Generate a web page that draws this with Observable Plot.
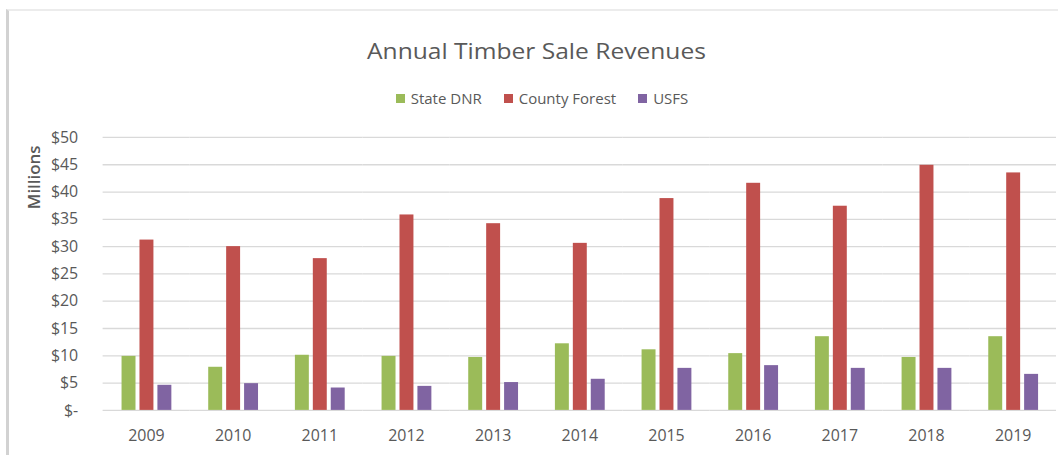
<!DOCTYPE html>
<html>
<head>
<meta charset="utf-8">
<script src="https://cdn.jsdelivr.net/npm/d3@7"></script>
<script src="https://cdn.jsdelivr.net/npm/@observablehq/plot@0.6"></script>
<style>
  html, body { margin: 0; padding: 0; background: #fff; }
  #wrap { position: relative; width: 1058px; height: 455px; overflow: hidden; font-family: "Open Sans", sans-serif; color: #595959; }
  #frame { position: absolute; left: 6px; top: 9px; right: -10px; bottom: -10px; border-left: 3px solid #d2d2d2; border-top: 2px solid #ececec; }
  #title { position: absolute; left: 9px; top: 41px; width: 1058px; text-align: center; font-size: 21px; line-height: 1; color: #595959; transform: scaleX(1.17); transform-origin: 538px 0; }
  #legend { position: absolute; left: 13px; top: 88px; width: 1058px; display: flex; justify-content: center; }
  #legend .lg-swatches { font-family: "Open Sans", sans-serif; font-size: 15px; color: #595959; min-height: 0 !important; margin: 0 !important; }
  #legend .lg-swatch { margin-right: 22px !important; }
  #legend .lg-swatch:last-child { margin-right: 0 !important; }
  #legend .lg-swatch > svg { margin-right: 6px !important; }
  #chart { position: absolute; left: 0; top: 120px; }
</style>
</head>
<body>
<div id="wrap">
  <div id="frame"></div>
  <div id="title"></div>
  <div id="legend"></div>
  <div id="chart"></div>
</div>
<script>
const title = "Annual Timber Sale Revenues";
const yLabel = "Millions";
const years = ["2009", "2010", "2011", "2012", "2013", "2014", "2015", "2016", "2017", "2018", "2019"];
const seriesNames = ["State DNR", "County Forest", "USFS"];
const seriesColors = ["#9BBB59", "#C0504D", "#8064A2"];
const stateDNR = [9.9, 7.9, 10.1, 9.9, 9.7, 12.2, 11.1, 10.4, 13.5, 9.7, 13.5];
const countyForest = [31.2, 30.0, 27.8, 35.8, 34.2, 30.6, 38.8, 41.6, 37.4, 44.9, 43.5];
const usfs = [4.6, 4.9, 4.1, 4.4, 5.1, 5.7, 7.7, 8.2, 7.7, 7.7, 6.6];
const yTicks = [0, 5, 10, 15, 20, 25, 30, 35, 40, 45, 50];

const seriesValues = [stateDNR, countyForest, usfs];
const rows = [];
years.forEach((yr, i) => {
  seriesNames.forEach((s, j) => rows.push({year: yr, series: s, value: seriesValues[j][i]}));
});

document.getElementById("title").textContent = title;

const colorOpts = {type: "ordinal", domain: seriesNames, range: seriesColors};

document.getElementById("legend").appendChild(
  Plot.legend({color: colorOpts, legend: "swatches", swatchSize: 9, className: "lg"})
);

const chart = Plot.plot({
  width: 1062,
  height: 335,
  marginLeft: 101,
  marginRight: 0,
  marginTop: 17,
  marginBottom: 44,
  style: {fontFamily: "Open Sans, sans-serif", fontSize: "16px", color: "#595959", background: "transparent", overflow: "visible"},
  fx: {domain: years, padding: 0, label: null, tickSize: 0, tickPadding: 19},
  x: {domain: seriesNames, axis: null, paddingInner: 0, paddingOuter: 0.8},
  y: {domain: [0, 50], ticks: yTicks, tickSize: 0, tickPadding: 25, label: null,
      tickFormat: d => d === 0 ? "$-" : "$" + d},
  color: colorOpts,
  marks: [
    Plot.ruleY(yTicks, {stroke: "#d9d9d9", strokeWidth: 1.3}),
    Plot.barY(rows, {fx: "year", x: "series", y: "value", fill: "series", insetLeft: 2, insetRight: 2}),
    Plot.text([{fx: years[0], t: yLabel}], {fx: "fx", text: "t", frameAnchor: "top-left", rotate: -90,
      textAnchor: "end", dx: -75, dy: 8, fontWeight: 600, fontSize: 17, fill: "#595959"})
  ]
});
document.getElementById("chart").appendChild(chart);
</script>
</body>
</html>
